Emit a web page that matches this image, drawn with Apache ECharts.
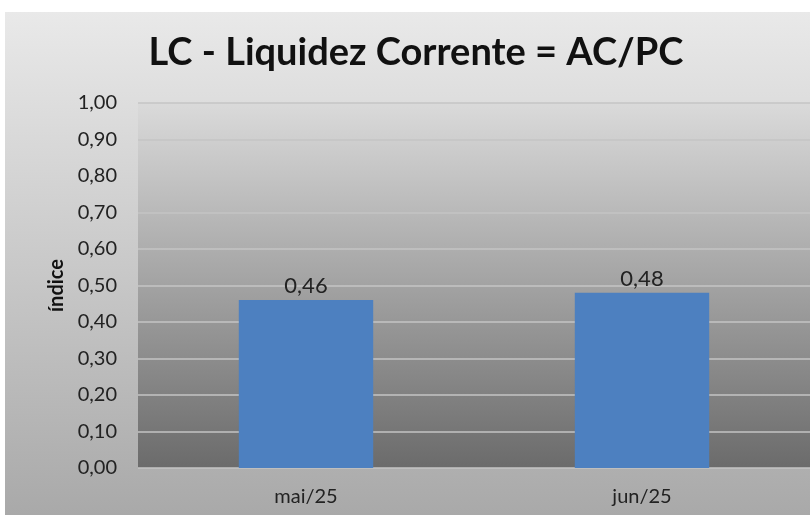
<!DOCTYPE html>
<html>
<head>
<meta charset="utf-8">
<script src="https://cdn.jsdelivr.net/npm/echarts@6/dist/echarts.min.js"></script>
<style>
  html, body { margin: 0; padding: 0; background: #fff; }
  #main { width: 810px; height: 515px; }
</style>
</head>
<body>
<div id="main"></div>
<script>
var categories = ['mai/25', 'jun/25'];
var values = [0.46, 0.48];
var yTicks = { min: 0, max: 1, interval: 0.1 };

var fmt = function (v) { return v.toFixed(2).replace('.', ','); };

var myChart = echarts.init(document.getElementById('main'));

var option = {
  backgroundColor: '#ffffff',
  textStyle: { fontFamily: 'Lato' },
  graphic: [
    {
      type: 'rect',
      z: -10,
      shape: { x: 5, y: 12, width: 805, height: 503 },
      style: {
        fill: new echarts.graphic.LinearGradient(0, 0, 0, 1, [
          { offset: 0, color: '#e9e9e9' },
          { offset: 1, color: '#a9a9a9' }
        ])
      }
    }
  ],
  title: {
    text: 'LC - Liquidez Corrente = AC/PC',
    left: 411,
    textAlign: 'center',
    top: 29,
    textStyle: { fontFamily: 'Lato', fontWeight: 'bold', fontSize: 38, color: '#111' }
  },
  grid: {
    left: 138,
    right: -4,
    top: 103,
    bottom: 47,
    show: true,
    borderWidth: 0,
    backgroundColor: new echarts.graphic.LinearGradient(0, 0, 0, 1, [
      { offset: 0, color: '#dadada' },
      { offset: 1, color: '#6b6b6b' }
    ])
  },
  xAxis: {
    type: 'category',
    data: categories,
    axisLine: { show: false },
    axisTick: { show: false },
    axisLabel: { fontSize: 20, color: '#222', margin: 19 }
  },
  yAxis: {
    type: 'value',
    min: yTicks.min,
    max: yTicks.max,
    interval: yTicks.interval,
    name: 'índice',
    nameLocation: 'middle',
    nameGap: 70,
    nameTextStyle: { fontSize: 20, fontWeight: 'bold', color: '#111' },
    axisLine: { show: false },
    axisTick: { show: false },
    axisLabel: { fontSize: 20, color: '#222', margin: 21, formatter: fmt },
    splitLine: { lineStyle: { color: '#c4c4c4', width: 1.5 } }
  },
  series: [
    {
      type: 'bar',
      data: values,
      barWidth: '40%',
      itemStyle: { color: '#4d80c0' },
      label: {
        show: true,
        position: 'top',
        distance: 3,
        fontSize: 22,
        color: '#222',
        formatter: function (p) { return fmt(p.value); }
      }
    }
  ]
};

myChart.setOption(option);
</script>
</body>
</html>
